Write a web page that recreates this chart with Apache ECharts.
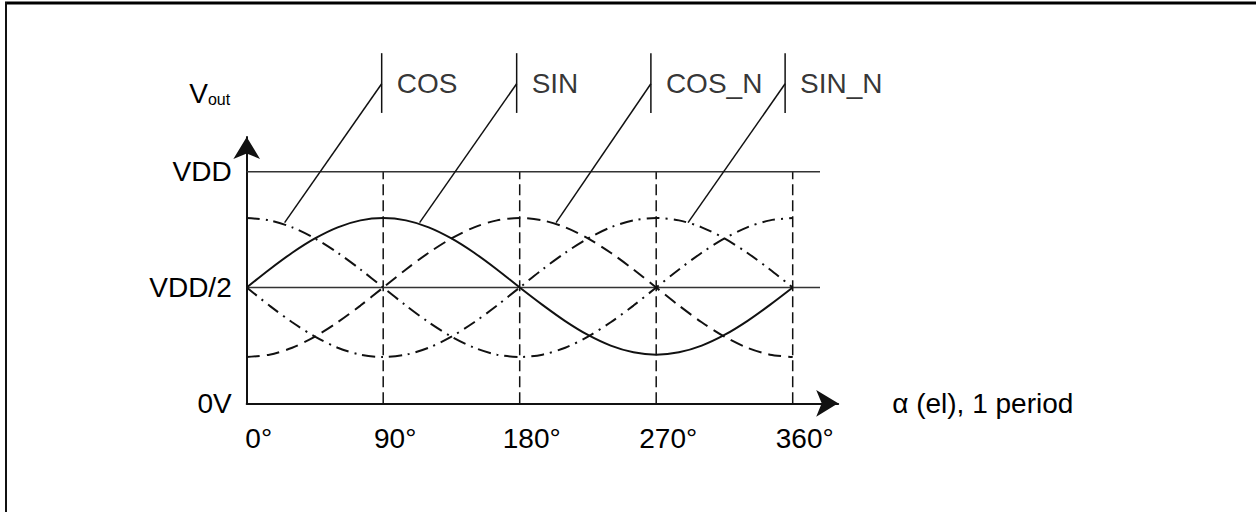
<!DOCTYPE html>
<html>
<head>
<meta charset="utf-8">
<script src="https://cdn.jsdelivr.net/npm/echarts@6/dist/echarts.min.js"></script>
<style>
html,body{margin:0;padding:0;background:#fff;}
#chart{width:1256px;height:512px;}
</style>
</head>
<body>
<div id="chart"></div>
<script>
// ---- data ----
const angles   = [0,15,30,45,60,75,90,105,120,135,150,165,180,195,210,225,240,255,270,285,300,315,330,345,360];
const cosVals  = [0.800,0.790,0.760,0.712,0.650,0.578,0.500,0.422,0.350,0.288,0.240,0.210,0.200,0.210,0.240,0.288,0.350,0.422,0.500,0.578,0.650,0.712,0.760,0.790,0.800];
const sinVals  = [0.500,0.578,0.650,0.712,0.760,0.790,0.800,0.790,0.760,0.712,0.650,0.578,0.500,0.425,0.355,0.295,0.249,0.220,0.210,0.220,0.249,0.295,0.355,0.425,0.500];
const cosNVals = [0.200,0.210,0.240,0.288,0.350,0.422,0.500,0.578,0.650,0.712,0.760,0.790,0.800,0.790,0.760,0.712,0.650,0.578,0.500,0.422,0.350,0.288,0.240,0.210,0.200];
const sinNVals = [0.500,0.422,0.350,0.288,0.240,0.210,0.200,0.210,0.240,0.288,0.350,0.422,0.500,0.578,0.650,0.712,0.760,0.790,0.800,0.790,0.760,0.712,0.650,0.578,0.500];

const xTickValues = [0,90,180,270,360];
const xTickLabels = ['0°','90°','180°','270°','360°'];
const yTickValues = [0,0.5,1];
const yTickLabels = ['0V','VDD/2','VDD'];
const xAxisTitle = 'α (el), 1 period';

const curveNames   = ['COS','SIN','COS_N','SIN_N'];
const labelBarX    = [89,178,266.5,355];
const labelBarBottom = 1.254;
const labelBarTop    = 1.512;
const labelJoinY   = 1.38;
const leaderEndX   = [25,114,204,291];
const leaderEndY   = [0.78,0.78,0.78,0.78];

const refLinesX = [90,180,270,360];   // vertical dashed guides
const refLinesY = [0.5,1];            // VDD/2 and VDD
const refLineXEnd = 378;
// ---------------------------------------

const INK = '#111';
const TXT = '#000';
const FONT = 'Liberation Sans, Arial, sans-serif';
const FS = 28;

function pairs(xs, ys){ return xs.map((x,i)=>[x,ys[i]]); }

const dashPattern = [13,7];
const dashDot = [13,6,2,6];

const curveTypes = [dashDot, 'solid', dashPattern, dashDot];
const curveData = [cosVals, sinVals, cosNVals, sinNVals];

const series = [];

curveData.forEach((vals, i) => {
  series.push({
    name: curveNames[i],
    type: 'line',
    data: pairs(angles, vals),
    showSymbol: false,
    symbol: 'none',
    smooth: 0.3,
    clip: false,
    lineStyle: {color: INK, width: 2, type: curveTypes[i]},
    z: 5
  });
});

// vertical dashed guides
refLinesX.forEach(x => {
  series.push({
    type: 'line',
    data: [[x, 0],[x, 1]],
    symbol: 'none', clip: false,
    lineStyle: {color: INK, width: 1.5, type: [11,5]},
    z: 3
  });
});
// horizontal reference lines
refLinesY.forEach(y => {
  series.push({
    type: 'line',
    data: [[0, y],[refLineXEnd, y]],
    symbol: 'none', clip: false,
    lineStyle: {color: '#333', width: 1.5, type: 'solid'},
    z: 3
  });
});

// label bars and leaders
curveNames.forEach((n, i) => {
  series.push({
    type: 'line',
    data: [[labelBarX[i], labelBarBottom],[labelBarX[i], labelBarTop]],
    symbol: 'none', clip: false,
    lineStyle: {color: INK, width: 1.5}
  });
  series.push({
    type: 'line',
    data: [[labelBarX[i], labelJoinY],[leaderEndX[i], leaderEndY[i]]],
    symbol: 'none', clip: false,
    lineStyle: {color: INK, width: 1.5}
  });
});

series.push({
  type: 'scatter',
  symbolSize: 0,
  clip: false,
  data: curveNames.map((n,i) => ({name: n, value: [labelBarX[i], labelJoinY]})),
  label: {
    show: true, position: 'right', distance: 15,
    formatter: '{b}', color: TXT, fontSize: FS, fontFamily: FONT
  }
});

const chart = echarts.init(document.getElementById('chart'), null, {renderer: 'svg'});
chart.setOption({
  animation: false,
  backgroundColor: '#fff',
  grid: {left: 246.7, right: 417.8, top: 137, bottom: 108.7, outerBoundsMode: 'none', containLabel: false},
  xAxis: {
    type: 'value', min: 0, max: 390, interval: 90,
    name: xAxisTitle, nameLocation: 'end', nameGap: 54,
    nameTextStyle: {color: TXT, fontSize: FS, fontFamily: FONT, verticalAlign: 'middle', align: 'left'},
    axisLine: {show: true, lineStyle: {color: INK, width: 2}, symbol: ['none','arrow'], symbolSize: [20,22]},
    axisTick: {show: false},
    splitLine: {show: false},
    axisLabel: {
      color: TXT, fontSize: FS, fontFamily: FONT, margin: 21,
      padding: [0,0,0,24],
      formatter: v => { const k = xTickValues.indexOf(v); return k < 0 ? '' : xTickLabels[k]; }
    }
  },
  yAxis: {
    type: 'value', min: 0, max: 1.15, interval: 0.5,
    name: '{v|V}{s|out}', nameLocation: 'end', nameGap: 30,
    nameTextStyle: {
      color: TXT, fontFamily: FONT, padding: [0,74,0,0],
      rich: {
        v: {fontSize: FS, fontFamily: FONT, color: TXT, verticalAlign: 'bottom'},
        s: {fontSize: 16, fontFamily: FONT, color: TXT, verticalAlign: 'bottom'}
      }
    },
    axisLine: {show: true, lineStyle: {color: INK, width: 2}, symbol: ['none','arrow'], symbolSize: [20,22]},
    axisTick: {show: false},
    splitLine: {show: false},
    axisLabel: {
      color: TXT, fontSize: FS, fontFamily: FONT, margin: 15,
      formatter: v => { const k = yTickValues.indexOf(v); return k < 0 ? '' : yTickLabels[k]; }
    }
  },
  graphic: [
    {type: 'line', shape: {x1: 5, y1: 3, x2: 1256, y2: 3}, style: {stroke: '#000', lineWidth: 3}},
    {type: 'line', shape: {x1: 6, y1: 2, x2: 6, y2: 512}, style: {stroke: '#111', lineWidth: 2}}
  ],
  series: series
});
</script>
</body>
</html>
